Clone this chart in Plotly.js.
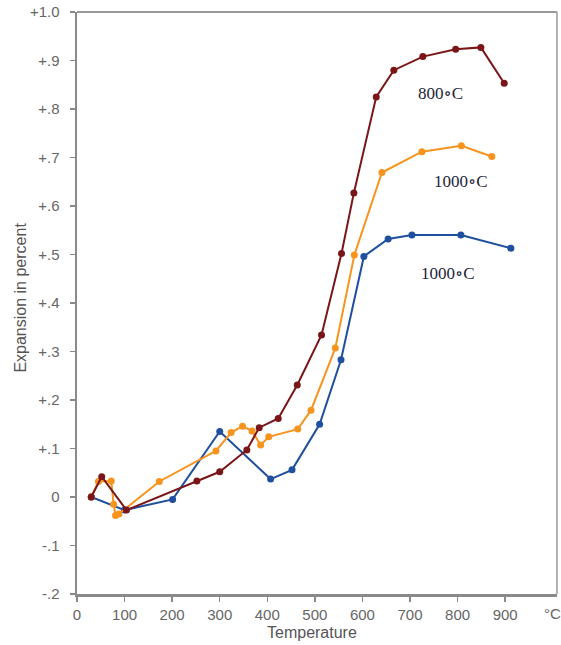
<!DOCTYPE html>
<html>
<head>
<meta charset="utf-8">
<script src="https://cdn.plot.ly/plotly-3.0.1.min.js"></script>
<style>html,body{margin:0;padding:0;background:#fff;}#chart{width:561px;height:645px;}</style>
</head>
<body>
<div id="chart"></div>
<script>
// Temperature (°C) and expansion (%) for each series
const x800 = [30, 52, 104, 252, 300, 357, 383, 423, 463, 514, 556, 582, 629, 666, 727, 796, 849, 898];
const y800 = [0, 0.042, -0.027, 0.033, 0.052, 0.097, 0.143, 0.162, 0.231, 0.334, 0.502, 0.627, 0.825, 0.880, 0.908, 0.923, 0.927, 0.853];

const x1000a = [30, 45, 72, 77, 81, 88, 173, 292, 324, 348, 368, 386, 403, 464, 492, 543, 583, 641, 725, 808, 872];
const y1000a = [0, 0.032, 0.033, -0.015, -0.038, -0.035, 0.032, 0.095, 0.133, 0.146, 0.136, 0.107, 0.124, 0.140, 0.179, 0.307, 0.499, 0.669, 0.712, 0.724, 0.702];

const x1000b = [30, 100, 201, 300, 407, 452, 510, 555, 603, 654, 704, 807, 912];
const y1000b = [0, -0.027, -0.005, 0.135, 0.037, 0.056, 0.150, 0.283, 0.496, 0.532, 0.540, 0.540, 0.513];

const xTickVals = [0, 100, 200, 300, 400, 500, 600, 700, 800, 900];
const yTickVals = [-0.2, -0.1, 0, 0.1, 0.2, 0.3, 0.4, 0.5, 0.6, 0.7, 0.8, 0.9, 1.0];
const yTickText = ['-.2', '-.1', '0', '+.1', '+.2', '+.3', '+.4', '+.5', '+.6', '+.7', '+.8', '+.9', '+1.0'];

const labels = [
  {text: '800∘C', x: 765, y: 0.833},
  {text: '1000∘C', x: 808, y: 0.651},
  {text: '1000∘C', x: 780, y: 0.460}
];

const colors = {c800: '#7a1618', c1000a: '#f7941e', c1000b: '#1f4f9f'};
const sans = 'Liberation Sans, Arial, sans-serif';

function series(x, y, c) {
  return {x: x, y: y, type: 'scatter', mode: 'lines+markers',
    line: {color: c, width: 2}, marker: {color: c, size: 7}, hoverinfo: 'skip'};
}

const data = [
  series(x1000b, y1000b, colors.c1000b),
  series(x1000a, y1000a, colors.c1000a),
  series(x800, y800, colors.c800)
];

const annotations = labels.map(l => ({
  text: l.text, x: l.x, y: l.y, xref: 'x', yref: 'y', showarrow: false,
  font: {family: 'Liberation Serif, DejaVu Serif, serif', size: 17, color: '#23233a'},
  bgcolor: 'rgba(255,255,255,0.9)'
}));
annotations.push({text: 'Expansion in percent', xref: 'paper', yref: 'paper', x: -0.117, y: 0.509,
  xanchor: 'center', yanchor: 'middle',
  textangle: -90, showarrow: false, font: {family: sans, size: 16, color: '#555'}});
annotations.push({text: 'Temperature', xref: 'paper', yref: 'paper', x: 0.49, y: -0.067,
  yanchor: 'middle', showarrow: false, font: {family: sans, size: 16, color: '#555'}});
annotations.push({text: '°C', xref: 'x', yref: 'paper', x: 1000, y: -0.033,
  yanchor: 'middle', showarrow: false, font: {family: sans, size: 15, color: '#666'}});

const layout = {
  width: 561, height: 645,
  margin: {l: 77, r: 4, t: 12, b: 51},
  paper_bgcolor: '#fff', plot_bgcolor: '#fff',
  showlegend: false,
  xaxis: {
    range: [0, 1009], tickvals: xTickVals, ticks: 'outside', ticklen: 5, tickcolor: '#888', tickwidth: 1.5,
    showgrid: false, zeroline: false, showline: true, linecolor: '#8a8a8a', linewidth: 2.5, mirror: false,
    tickfont: {family: sans, size: 15, color: '#666'}
  },
  yaxis: {
    range: [-0.2, 1.0], tickvals: yTickVals, ticktext: yTickText, ticks: 'outside', ticklen: 5, tickcolor: '#888', tickwidth: 1.5,
    ticklabelstandoff: 7,
    showgrid: false, zeroline: false, showline: true, linecolor: '#8a8a8a', linewidth: 2.5, mirror: false,
    tickfont: {family: sans, size: 15, color: '#666'}
  },
  shapes: [
    {type: 'line', xref: 'paper', yref: 'paper', x0: 0, x1: 1, y0: 1, y1: 1, line: {color: '#777', width: 1.5}},
    {type: 'line', xref: 'paper', yref: 'paper', x0: 1, x1: 1, y0: 0, y1: 1, line: {color: '#999', width: 1.5}}
  ],
  annotations: annotations
};

Plotly.newPlot('chart', data, layout, {displayModeBar: false, staticPlot: true});
</script>
</body>
</html>
